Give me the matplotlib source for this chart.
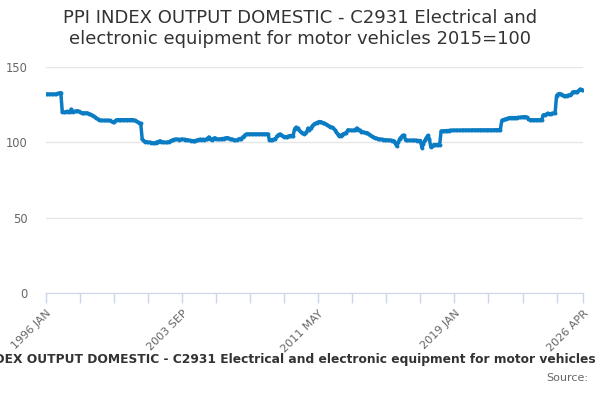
import matplotlib
matplotlib.use("Agg")
import matplotlib.pyplot as plt
import pandas as pd

title = "PPI INDEX OUTPUT DOMESTIC - C2931 Electrical and\nelectronic equipment for motor vehicles 2015=100"
series_name = "PPI INDEX OUTPUT DOMESTIC - C2931 Electrical and electronic equipment for motor vehicles"

# monthly index values, 1996 JAN .. 2026 APR
values_by_year = {
    1996: [132, 132, 132, 132, 132, 132, 132, 132, 132.5, 132.5, 133, 120],
    1997: [120, 120, 120.5, 120, 120, 122, 120, 120.5, 120.5, 121, 120.5, 120],
    1998: [119.5, 119.5, 119.5, 119.5, 119.5, 119, 118.5, 118, 117.5, 117, 116, 115.5],
    1999: [115, 114.5, 114.5, 114.5, 114.5, 114.5, 114.5, 114.5, 114, 113.5, 113.5, 114.5],
    2000: [115, 115, 115, 115, 115, 115, 115, 115, 115, 115, 115, 115],
    2001: [114.5, 114, 113.5, 113, 112.5, 102, 101, 100.5, 100.3, 100, 100, 99.8],
    2002: [99.6, 99.5, 99.8, 100.3, 100.5, 101, 100.5, 100, 100, 100, 100, 100.3],
    2003: [100.8, 101.3, 101.8, 102, 102, 102, 101.8, 102, 102, 102, 101.8, 101.8],
    2004: [101.5, 101.3, 101, 101, 101, 101.2, 101.5, 101.8, 102, 101.8, 102, 101.5],
    2005: [102, 102.5, 103.5, 102, 101.8, 102.5, 103, 102.5, 102, 102, 102.3, 102.5],
    2006: [102.5, 102.8, 103, 103, 102.5, 102, 102, 101.5, 101.5, 101.5, 102, 102.5],
    2007: [102.5, 103.5, 104.5, 105.3, 105.5, 105.5, 105.5, 105.5, 105.5, 105.5, 105.5, 105.5],
    2008: [105.5, 105.5, 105.5, 105.5, 105.5, 105.5, 105.5, 101.5, 101.5, 101.8, 102, 102],
    2009: [104, 105, 105.5, 105, 104, 103.8, 103.5, 103.8, 104.2, 104.5, 104.5, 104.5],
    2010: [109, 110, 109.5, 108, 107, 106.5, 105.7, 106, 106.6, 109.4, 108, 109.5],
    2011: [111, 112, 112.5, 113, 113.5, 113.8, 113.5, 113, 112.7, 112, 111.5, 111],
    2012: [110.5, 110, 109.4, 108.5, 107, 105.5, 104.2, 104.5, 105, 105.7, 106, 106.5],
    2013: [108.3, 108, 108, 107.9, 107.9, 108.5, 109.4, 108.5, 108, 107, 106.8, 106.6],
    2014: [106.4, 106.4, 105.5, 104.6, 104, 103.5, 103.1, 102.8, 102.5, 102.2, 102, 101.9],
    2015: [101.8, 101.7, 101.6, 101.5, 101.4, 101.3, 101.2, 101, 99.5, 97.4, 100, 102.4],
    2016: [103.5, 104.6, 104.6, 101.3, 101.3, 101.3, 101.3, 101.3, 101.3, 101.3, 101.3, 101.2],
    2017: [101.2, 101.2, 96.5, 99, 101.3, 103, 104.6, 102.4, 96.9, 97.5, 98.5, 98.5],
    2018: [98.5, 98.5, 98.5, 107.5, 107.6, 107.7, 107.7, 107.8, 107.8, 107.9, 107.9, 108],
    2019: [108, 108, 108, 108, 108, 108.1, 108.1, 108.1, 108.1, 108.1, 108.1, 108.1],
    2020: [108.2, 108.2, 108.1, 108.2, 108.2, 108.2, 108.2, 108.2, 108.2, 108.2, 108.2, 108.2],
    2021: [108.2, 108.2, 108.2, 108.3, 108.3, 108.3, 108.3, 108.4, 114.5, 115, 115.3, 115.6],
    2022: [116, 116.2, 116.4, 116.4, 116.4, 116.4, 116.4, 116.5, 116.5, 116.6, 116.8, 117],
    2023: [117, 116.5, 115.5, 115, 115, 114.9, 114.9, 114.9, 114.9, 114.9, 114.8, 115],
    2024: [118.2, 118.3, 118.5, 119.3, 118.6, 118.8, 119.3, 119.3, 119.3, 131, 132, 132.4],
    2025: [132, 131.5, 131, 130.9, 131, 131.3, 131.5, 132, 133.5, 133.5, 133.5, 133.6],
    2026: [134.5, 135.3, 135, 134.6],
}

values = [v for year in sorted(values_by_year) for v in values_by_year[year]]
dates = pd.date_range("1996-01-01", periods=len(values), freq="MS")
month_idx = list(range(len(values)))

label_months = [0, 92, 184, 276, len(values) - 1]
tick_months = list(range(0, len(values) - 1, 23)) + [len(values) - 1]

fig = plt.figure(figsize=(6, 4), dpi=100)
ax = fig.add_axes([0.0767, 0.2675, 0.8953, 0.565])

ax.plot(month_idx, values, color="#0a7cc4", linewidth=2.5,
        marker="o", markersize=2.8, markeredgewidth=0, solid_joinstyle="round")

ax.set_xlim(0, len(values) - 1)
ax.set_ylim(0, 150)
ax.set_yticks([0, 50, 100, 150])
ax.grid(axis="y", color="#e6e6e6", linewidth=1)
ax.set_axisbelow(True)

ax.set_xticks(tick_months)
ax.set_xticklabels([dates[m].strftime("%Y %b").upper() if m in label_months else ""
                    for m in tick_months],
                   rotation=45, ha="right", va="top", rotation_mode="anchor")

for side in ["top", "right", "left"]:
    ax.spines[side].set_visible(False)
ax.spines["bottom"].set_color("#ccd6eb")
ax.tick_params(axis="x", colors="#ccd6eb", length=7, width=1, labelcolor="#666666",
               labelsize=8, pad=4)
ax.tick_params(axis="y", length=0, labelcolor="#666666", labelsize=8.3, pad=13)

fig.text(0.5, 0.978, title, ha="center", va="top", fontsize=13,
         color="#333333", linespacing=1.25)
fig.text(0.992, 0.1, series_name, ha="right", va="center", fontsize=8.85,
         fontweight="bold", color="#333333")
fig.text(0.98, 0.055, "Source:", ha="right", va="center", fontsize=8, color="#666666")

fig.savefig("out.png", dpi=100)
